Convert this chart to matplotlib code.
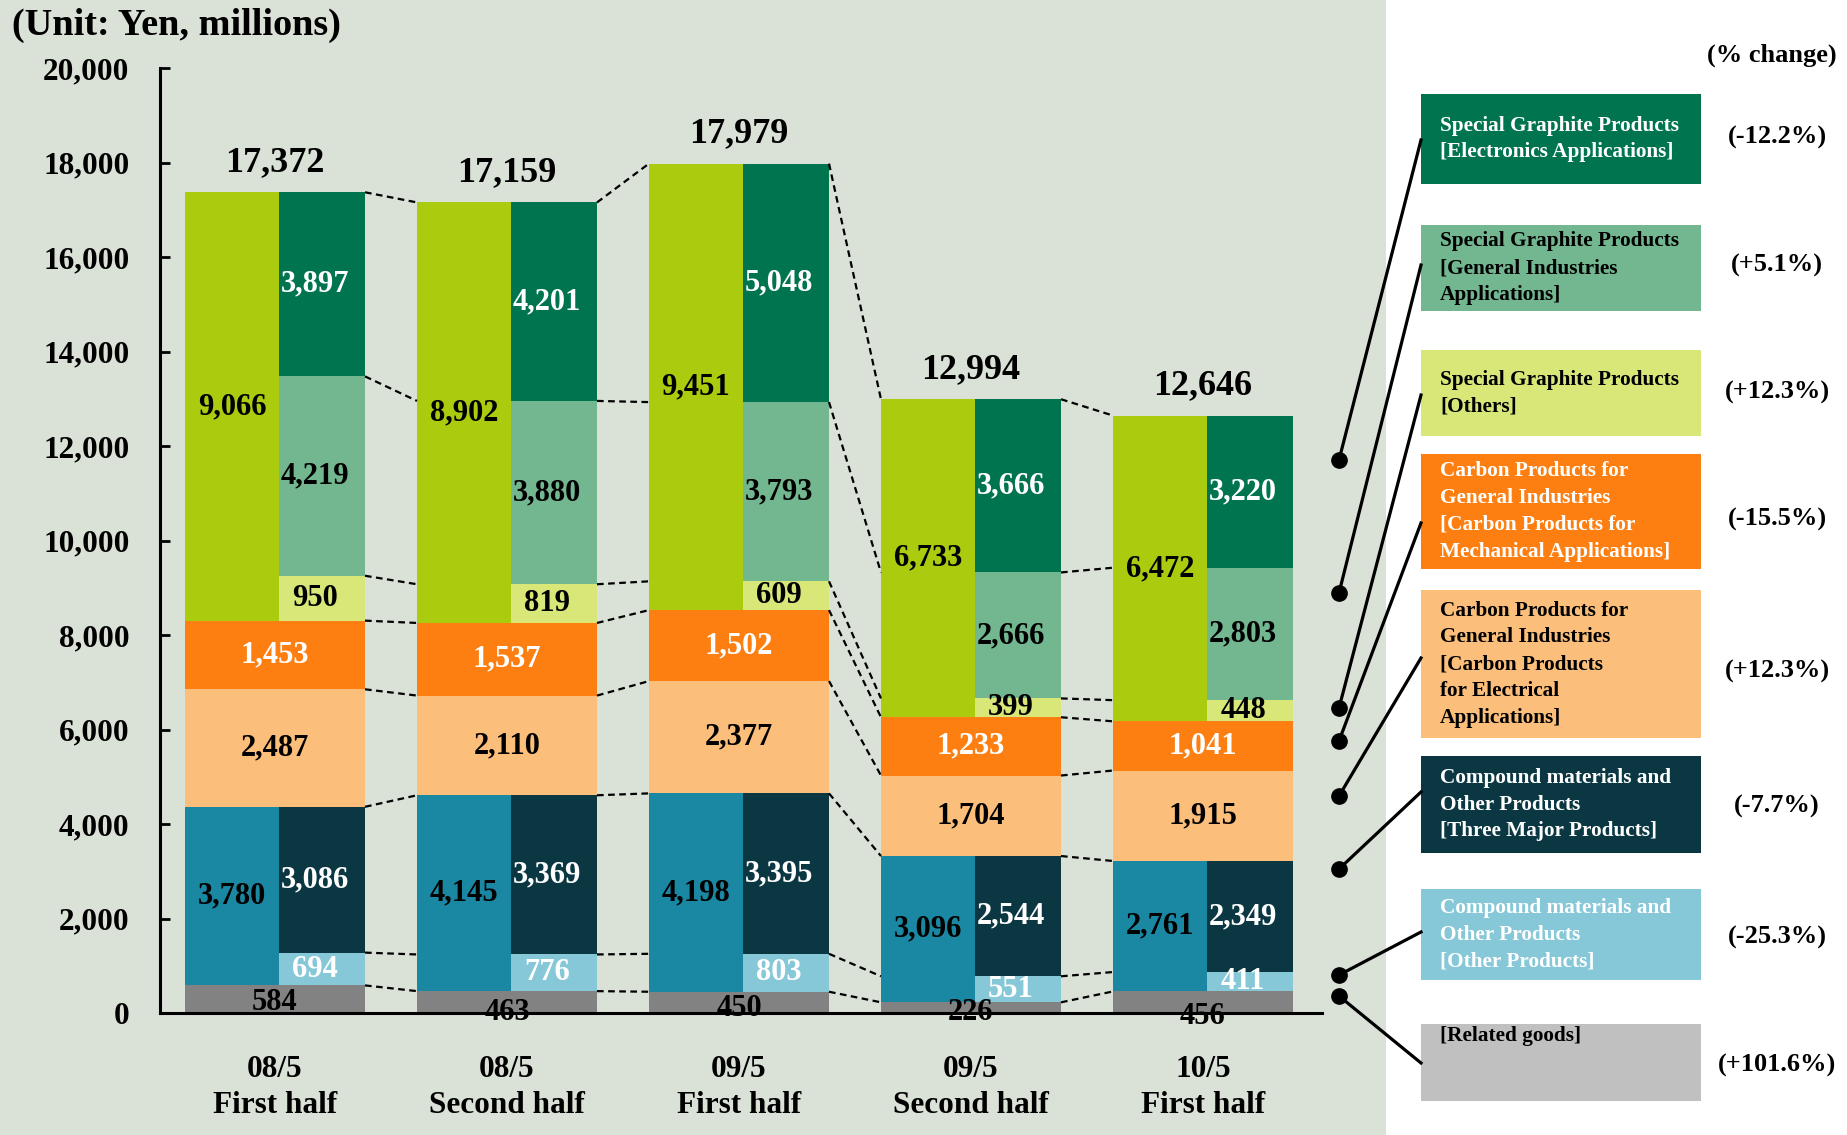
import matplotlib.pyplot as plt
import numpy as np
from matplotlib.patches import Rectangle

plt.rcParams['font.family'] = ['Liberation Serif', 'DejaVu Serif']
plt.rcParams['font.weight'] = 'bold'

#####################
# data (Yen, millions)
periods = ['08/5\nFirst half', '08/5\nSecond half', '09/5\nFirst half',
           '09/5\nSecond half', '10/5\nFirst half']
totals = [17372, 17159, 17979, 12994, 12646]
related = [584, 463, 450, 226, 456]
compound_total = [3780, 4145, 4198, 3096, 2761]
compound_other = [694, 776, 803, 551, 411]
compound_three = [3086, 3369, 3395, 2544, 2349]
carbon_elec = [2487, 2110, 2377, 1704, 1915]
carbon_mech = [1453, 1537, 1502, 1233, 1041]
graphite_total = [9066, 8902, 9451, 6733, 6472]
graphite_others = [950, 819, 609, 399, 448]
graphite_general = [4219, 3880, 3793, 2666, 2803]
graphite_elec = [3897, 4201, 5048, 3666, 3220]

legend_names = ['Special Graphite Products\n[Electronics Applications]',
                'Special Graphite Products\n[General Industries\nApplications]',
                'Special Graphite Products\n[Others]',
                'Carbon Products for\nGeneral Industries\n[Carbon Products for\nMechanical Applications]',
                'Carbon Products for\nGeneral Industries\n[Carbon Products\nfor Electrical\nApplications]',
                'Compound materials and\nOther Products\n[Three Major Products]',
                'Compound materials and\nOther Products\n[Other Products]',
                '[Related goods]\n \n ']
pct_change = ['(-12.2%)', '(+5.1%)', '(+12.3%)', '(-15.5%)', '(+12.3%)',
              '(-7.7%)', '(-25.3%)', '(+101.6%)']
#####################
# colours
c_gray = '#828282'
c_teal = '#1b88a3'
c_navy = '#0b3743'
c_lblue = '#86c8d8'
c_lorange = '#fcbf7b'
c_orange = '#fd7f12'
c_ygreen = '#abcb0e'
c_lyellow = '#d9e678'
c_mgreen = '#72b790'
c_dgreen = '#00744e'
bg = '#dae1d7'

W, H = 1847, 1135
fig = plt.figure(figsize=(W / 100, H / 100), dpi=100)
fig.patch.set_facecolor('white')
fig.add_artist(Rectangle((0, 0), 1386 / W, 1, transform=fig.transFigure,
                         facecolor=bg, edgecolor='none', zorder=0))

ax = fig.add_axes([160 / W, 1 - 1013 / H, 1162 / W, 945 / H])
ax.set_facecolor('none')

x = np.arange(len(periods))
L0, MID, R1 = -0.388, 0.017, 0.388
related = np.array(related)
compound_total = np.array(compound_total)
compound_other = np.array(compound_other)
compound_three = np.array(compound_three)
carbon_elec = np.array(carbon_elec)
carbon_mech = np.array(carbon_mech)
graphite_total = np.array(graphite_total)
graphite_others = np.array(graphite_others)
graphite_general = np.array(graphite_general)
graphite_elec = np.array(graphite_elec)

elec_base = related + compound_total
mech_base = elec_base + carbon_elec
g_base = mech_base + carbon_mech

segs = [
    # (values, bottom, x0, x1, colour, text colour)
    (related, 0 * related, L0, R1, c_gray, 'black'),
    (compound_total, related, L0, MID, c_teal, 'black'),
    (compound_other, related, MID, R1, c_lblue, 'white'),
    (compound_three, related + compound_other, MID, R1, c_navy, 'white'),
    (carbon_elec, elec_base, L0, R1, c_lorange, 'black'),
    (carbon_mech, mech_base, L0, R1, c_orange, 'white'),
    (graphite_total, g_base, L0, MID, c_ygreen, 'black'),
    (graphite_others, g_base, MID, R1, c_lyellow, 'black'),
    (graphite_general, g_base + graphite_others, MID, R1, c_mgreen, 'black'),
    (graphite_elec, g_base + graphite_others + graphite_general, MID, R1, c_dgreen, 'white'),
]
related_label_y = [230, 20, 100, 0, -80]

for k, (vals, bot, x0, x1, col, tcol) in enumerate(segs):
    ax.bar(x + x0, vals, width=x1 - x0, bottom=bot, align='edge',
           color=col, edgecolor='none', zorder=1)
    xo = -0.03 if x0 == MID else 0.0
    for i in range(len(x)):
        yy = related_label_y[i] if k == 0 else bot[i] + vals[i] / 2
        ax.text(x[i] + (x0 + x1) / 2 + xo, yy, f'{vals[i]:,}', ha='center',
                va='center', fontsize=22, color=tcol, zorder=4, clip_on=False)

# totals
for i in range(len(x)):
    top = g_base[i] + graphite_total[i]
    ax.text(x[i], top + 630, f'{totals[i]:,}', ha='center', va='center',
            fontsize=26, color='black', zorder=4)

# dashed connectors between periods
levels = [related, related + compound_other, elec_base, mech_base, g_base,
          g_base + graphite_others, g_base + graphite_others + graphite_general,
          g_base + graphite_others + graphite_general + graphite_elec]
for lev in levels:
    for i in range(len(x) - 1):
        ax.plot([x[i] + R1, x[i + 1] + L0], [lev[i], lev[i + 1]], color='black',
                lw=1.6, linestyle=(0, (3, 2)), zorder=2, clip_on=False)

ax.set_xlim(-0.4957, 4.513)
ax.set_ylim(0, 20000)
ax.set_yticks(range(0, 20001, 2000))
ax.set_yticklabels([f'{v:,}' for v in range(0, 20001, 2000)], fontsize=22.5)
ax.tick_params(axis='y', direction='in', length=7, width=2, pad=22)
ax.set_xticks(x)
ax.set_xticklabels(periods, fontsize=22.5, linespacing=1.35)
ax.tick_params(axis='x', length=0, pad=30)
for s in ['top', 'right']:
    ax.spines[s].set_visible(False)
for s in ['left', 'bottom']:
    ax.spines[s].set_linewidth(2.2)

fig.text(12 / W, 1 - 25 / H, '(Unit: Yen, millions)', fontsize=27.5,
         ha='left', va='center')

# legend side (pixel coordinates)
ov = fig.add_axes([0, 0, 1, 1], zorder=5)
ov.set_xlim(0, W)
ov.set_ylim(H, 0)
ov.axis('off')
ov.patch.set_visible(False)

box_y = [(94, 184), (225, 311), (350, 436), (454, 569), (590, 738),
         (756, 853), (889, 980), (1024, 1101)]
box_col = [c_dgreen, c_mgreen, c_lyellow, c_orange, c_lorange, c_navy, c_lblue, '#c0c0c0']
box_tcol = ['white', 'black', 'black', 'white', 'black', 'white', 'white', 'black']
pct_y = [137, 265, 392, 519, 671, 806, 937, 1065]
dot_y = [460, 593, 708, 741, 796, 869, 975, 996]
end_y = [140, 265, 395, 523, 658, 792, 932, 1063]

for k in range(len(legend_names)):
    y0, y1 = box_y[k]
    ov.add_patch(Rectangle((1421, y0), 280, y1 - y0, facecolor=box_col[k],
                           edgecolor='none'))
    ov.text(1440, (y0 + y1) / 2, legend_names[k], fontsize=15.3,
            color=box_tcol[k], ha='left', va='center', linespacing=1.45)
    ov.text(1777, pct_y[k], pct_change[k], fontsize=19, ha='center', va='center')
    ov.plot([1339, 1421], [dot_y[k], end_y[k]], color='black', lw=2.3)
    ov.plot(1339, dot_y[k], 'o', color='black', markersize=11)

ov.text(1772, 55, '(% change)', fontsize=19, ha='center', va='center')

plt.savefig('out.png', dpi=100)
